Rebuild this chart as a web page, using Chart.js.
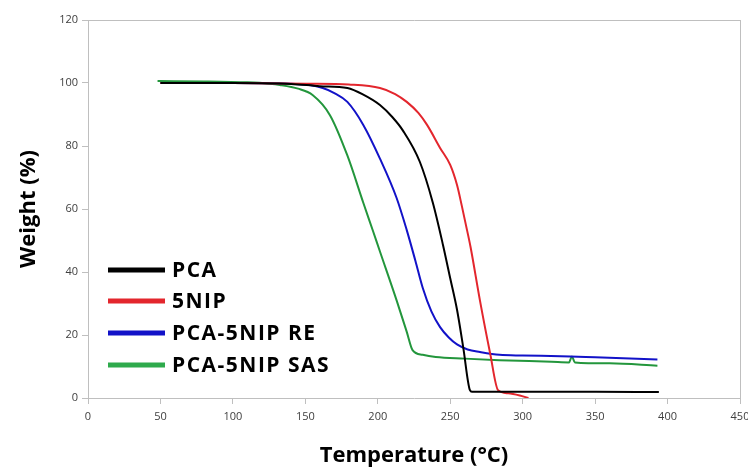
<!DOCTYPE html>
<html>
<head>
<meta charset="utf-8">
<script src="https://cdn.jsdelivr.net/npm/chart.js@4"></script>
<style>
  html, body { margin: 0; padding: 0; background: #fff; }
  #wrap { width: 748px; height: 468px; }
</style>
</head>
<body>
<div id="wrap"><canvas id="tgaChart" width="748" height="468"></canvas></div>
<script>
// TGA curves (temperature °C, weight %)
const pcaTemp = [50, 100, 140, 160, 179, 190, 201.5, 210, 217.5, 229, 238, 245, 250, 254.7, 259, 263.6, 265, 300, 350, 394];
const pcaWeight = [100, 100, 99.7, 99, 98.4, 96.3, 93, 89.2, 84.8, 75, 62, 48.6, 38, 28, 16, 2.5, 2, 2, 2, 1.9];

const nipTemp = [50, 100, 150, 180, 201.5, 212, 220, 228, 234, 243, 250, 254.7, 258, 261.6, 264, 270.5, 277.5, 283, 290, 298, 304];
const nipWeight = [100, 100, 99.8, 99.5, 98.4, 96.5, 94, 90.5, 86.7, 79.4, 74, 67.6, 61, 53.3, 48, 31, 14.3, 2.5, 1.5, 0.8, 0];

const reTemp = [50, 100, 140, 150, 162, 170, 179, 190, 201.5, 213, 220, 226, 231, 237, 243, 249, 254.7, 262, 270.5, 284, 300, 333, 350, 393];
const reWeight = [100, 100, 99.8, 99.5, 98.4, 96.8, 94, 86.7, 76, 63.5, 53.3, 43.5, 35, 27.5, 22.5, 19.2, 17, 15.4, 14.6, 13.7, 13.5, 13.2, 12.9, 12.2];

const sasTemp = [48, 80, 110, 125, 132.5, 145, 155, 167, 179, 190, 196.7, 201.5, 213, 220, 224, 231, 240, 260, 284, 320, 332, 334, 336, 360, 393];
const sasWeight = [100.6, 100.5, 100.2, 99.8, 99.4, 98.2, 96.2, 89.8, 77, 62, 53, 46.5, 31, 21, 15.2, 13.7, 13, 12.5, 12, 11.5, 11.3, 13.2, 11.3, 11, 10.2];

const seriesNames = ['PCA', '5NIP', 'PCA-5NIP RE', 'PCA-5NIP SAS'];
const seriesColors = ['#000000', '#e3262d', '#1212c8', '#23963c'];
const legendColors = ['#000000', '#e3262d', '#1212c8', '#2eaa4c'];

const xTicks = [0, 50, 100, 150, 200, 250, 300, 350, 400, 450];
const yTicks = [0, 20, 40, 60, 80, 100, 120];

function toPoints(xs, ys) {
  return xs.map((x, i) => ({ x: x, y: ys[i] }));
}

const curves = [
  toPoints(pcaTemp, pcaWeight),
  toPoints(nipTemp, nipWeight),
  toPoints(reTemp, reWeight),
  toPoints(sasTemp, sasWeight)
];

// legend drawn inside the plot, lower left
const insideLegend = {
  id: 'insideLegend',
  afterDraw(chart) {
    const ctx = chart.ctx;
    const rows = [270, 301, 333, 365];
    ctx.save();
    ctx.font = 'bold 21px "Open Sans"';
    ctx.letterSpacing = '1.5px';
    ctx.textBaseline = 'middle';
    chart.data.datasets.forEach((ds, i) => {
      ctx.strokeStyle = legendColors[i];
      ctx.lineWidth = 5;
      ctx.beginPath();
      ctx.moveTo(108, rows[i]);
      ctx.lineTo(165, rows[i]);
      ctx.stroke();
      ctx.fillStyle = '#000';
      ctx.fillText(ds.label, 172, rows[i] + 1);
    });
    ctx.restore();
  }
};

const axisGray = '#bfbfbf';

new Chart(document.getElementById('tgaChart'), {
  type: 'scatter',
  data: {
    datasets: curves.map((pts, i) => ({
      label: seriesNames[i],
      data: pts,
      showLine: true,
      borderColor: seriesColors[i],
      backgroundColor: seriesColors[i],
      borderWidth: 2,
      pointRadius: 0,
      cubicInterpolationMode: 'monotone'
    }))
  },
  options: {
    responsive: false,
    animation: false,
    layout: { padding: { top: 20, right: 8, left: 0, bottom: 0 } },
    plugins: {
      legend: { display: false },
      tooltip: { enabled: false }
    },
    scales: {
      x: {
        type: 'linear',
        min: 0,
        max: 450,
        afterBuildTicks: axis => { axis.ticks = xTicks.map(v => ({ value: v })); },
        afterFit: axis => { axis.height = 70; axis.paddingRight = 0; axis.paddingLeft = 0; },
        grid: {
          color: c => (c.tick && c.tick.value === 450 ? axisGray : 'rgba(0,0,0,0)'),
          tickColor: axisGray,
          tickLength: 6
        },
        border: { color: axisGray },
        ticks: { color: '#404040', font: { family: '"Open Sans"', size: 11 }, padding: 6, maxRotation: 0 },
        title: {
          display: true,
          text: 'Temperature (°C)',
          color: '#000',
          font: { family: '"Open Sans"', size: 22, weight: 'bold' },
          padding: { top: 8, bottom: -1 }
        }
      },
      y: {
        min: 0,
        max: 120,
        afterBuildTicks: axis => { axis.ticks = yTicks.map(v => ({ value: v })); },
        afterFit: axis => { axis.width = 88; axis.paddingTop = 0; axis.paddingBottom = 0; },
        grid: {
          color: c => (c.tick && c.tick.value === 120 ? axisGray : 'rgba(0,0,0,0)'),
          tickColor: axisGray,
          tickLength: 6
        },
        border: { color: axisGray },
        ticks: { color: '#404040', font: { family: '"Open Sans"', size: 11 }, padding: 4 },
        title: {
          display: true,
          text: 'Weight (%)',
          color: '#000',
          font: { family: '"Open Sans"', size: 22, weight: 'bold' },
          padding: { top: 16, bottom: 0 }
        }
      }
    }
  },
  plugins: [insideLegend]
});
</script>
</body>
</html>
